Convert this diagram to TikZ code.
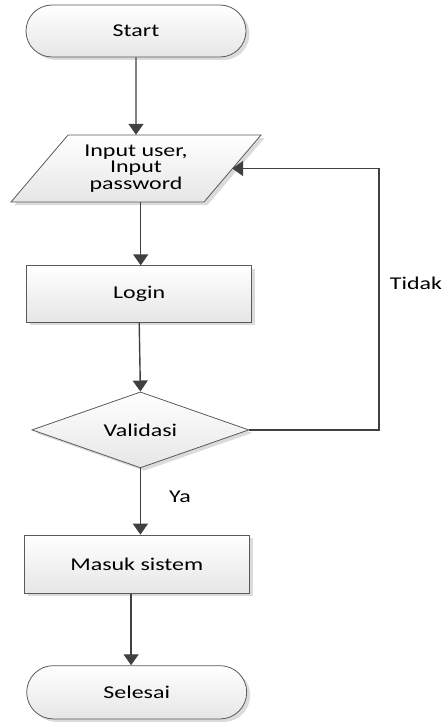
\documentclass[tikz,border=0pt]{standalone}
\usepackage{fontspec}
\setmainfont{Carlito}[FakeStretch=1.33]
\usetikzlibrary{shapes.geometric,shapes.misc,shadows,arrows.meta}
\definecolor{edge}{HTML}{5A5A5A}
\definecolor{arrowc}{HTML}{404040}
\definecolor{fillbot}{HTML}{E6E6E6}
\begin{document}
\begin{tikzpicture}[x=1pt,y=-1pt,
  base/.style={draw=edge,line width=0.8pt,top color=white,bottom color=fillbot,
     drop shadow={shadow xshift=3.5pt,shadow yshift=-3pt,fill=black!14,opacity=1}},
  txt/.style={font=\fontsize{18}{16.5}\selectfont,align=center,inner sep=0pt},
  term/.style={base,txt,rounded rectangle,minimum width=220pt,minimum height=52pt},
  procbox/.style={base,txt,rectangle,minimum width=225pt},
  decide/.style={base,txt,diamond,minimum width=217pt,minimum height=76pt,aspect=2.86},
  arr/.style={draw=arrowc,line width=1.4pt,-{Triangle[width=15pt,length=11pt]}},
  lbl/.style={font=\fontsize{18}{18}\selectfont,inner sep=0pt}]
\useasboundingbox (0,0) rectangle (445,722);
% nodes
\node[term] (start) at (136,31) {Start};
\path[base] (68,135) -- (261,135) -- (204,202) -- (11,202) -- cycle;
\node[txt,minimum width=192pt,minimum height=67pt] (par) at (136,168.5) {Input user,\\Input\\password};
\node[procbox,minimum height=56.3pt] (login) at (139.2,293.9) {Login};
\node[decide] (val) at (140.4,429.9) {Validasi};
\node[procbox,minimum height=58.3pt] (masuk) at (136.8,564.2) {Masuk sistem};
\node[term,minimum height=53.3pt] (sel) at (136.7,692.3) {Selesai};
\node[lbl] (tidak) at (416,283) {Tidak};
\node[lbl] (ya) at (180,497) {Ya};
\coordinate (tk) at (379,429.9);
% connectors
\draw[arr] (start) -- (par);
\draw[arr] ([xshift=4.7pt]par.south) -- ([xshift=4.7pt]par.south |- login.north);
\draw[arr] (login.south) -- (val.north);
\draw[arr] (val.south) -- (val.south |- masuk.north);
\draw[arr] ([xshift=-5.7pt]masuk.south) -- ([xshift=-5.7pt]masuk.south |- sel.north);
\draw[arr] (val.east) -- (tk) |- (par.east);
\end{tikzpicture}
\end{document}
